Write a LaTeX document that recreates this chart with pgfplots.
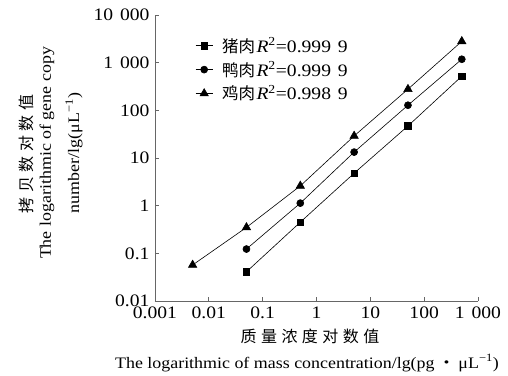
\documentclass[border=0pt]{standalone}
\usepackage{fontspec}
\setmainfont{Liberation Serif}
\newfontfamily\cjk{Noto Sans CJK SC}
\newfontfamily\cjkls{Noto Sans CJK SC}[LetterSpace=28]
\usepackage{graphicx}
\usepackage{pgfplots}
\pgfplotsset{compat=1.18}
\newcommand{\chartfont}{\fontsize{16}{19}\selectfont}
\newcommand{\numfont}{\fontsize{17.5}{20}\selectfont}
\newcommand{\stretchx}[1]{\scalebox{1.12}[1]{#1}}
\newcommand{\gap}{\hspace{0.35em}}
\newcommand{\meat}[1]{{\fontsize{16.5}{20}\selectfont\cjk #1}\hspace{1.5pt}}
\begin{document}
\begin{tikzpicture}
\path[use as bounding box] (-155pt,-74pt) rectangle (353pt,301pt);
\begin{axis}[
  at={(0pt,0pt)}, anchor=south west,
  scale only axis, width=323pt, height=286pt,
  xmode=log, ymode=log,
  xmin=0.001, xmax=1000, ymin=0.01, ymax=10000,
  axis x line=bottom, axis y line=left,
  axis line style={-, line width=0.9pt, black!60},
  tick align=inside, major tick length=4pt,
  xminorticks=false, yminorticks=false,
  every tick/.style={black!60, line width=0.9pt},
  xtick={0.001,0.01,0.1,1,10,100,1000},
  xticklabels={\stretchx{0.001},\stretchx{0.01},\stretchx{0.1},\stretchx{1},\stretchx{10},\stretchx{100},\stretchx{1\gap000}},
  ytick={0.01,0.1,1,10,100,1000,10000},
  yticklabels={\stretchx{0.01},\stretchx{0.1},\stretchx{1},\stretchx{10},\stretchx{100},\stretchx{1\gap000},\stretchx{10\gap000}},
  xticklabel style={font=\numfont, yshift=-2.5pt},
  yticklabel style={font=\numfont, xshift=-2pt},
  legend style={at={(0.115,0.935)}, anchor=north west, draw=none, fill=none,
    font=\numfont, row sep=4pt,
    /tikz/every odd column/.append style={column sep=7pt}},
  legend cell align=left,
  clip=false,
]
\addplot[black, line width=0.6pt, mark=square*, mark size=3.3pt] coordinates {
  (0.05,0.041) (0.5,0.45) (5,4.8) (50,47) (500,520)};
\addlegendentry{\meat{猪肉}\stretchx{\textit{R}\textsuperscript{2}=0.999\gap9}}
\addplot[black, line width=0.6pt, mark=*, mark size=3.5pt] coordinates {
  (0.05,0.123) (0.5,1.13) (5,13.3) (50,128) (500,1180)};
\addlegendentry{\meat{鸭肉}\stretchx{\textit{R}\textsuperscript{2}=0.999\gap9}}
\addplot[black, line width=0.6pt, mark=triangle*, mark size=4.8pt] coordinates {
  (0.005,0.057) (0.05,0.35) (0.5,2.6) (5,29) (50,278) (500,2800)};
\addlegendentry{\meat{鸡肉}\stretchx{\textit{R}\textsuperscript{2}=0.998\gap9}}
\end{axis}
\node[font=\chartfont\cjkls] at (155pt,-35pt) {质量浓度对数值};
\node[font=\chartfont] at (152pt,-62pt) {\stretchx{The logarithmic of mass concentration/lg(pg\,{\cjk ・}\,μL\textsuperscript{−1})}};
\node[font=\chartfont\cjkls, rotate=90] at (-129pt,147pt) {拷贝数对数值};
\node[font=\chartfont, rotate=90] at (-108pt,148pt) {\stretchx{The logarithmic of gene copy}};
\node[font=\chartfont, rotate=90] at (-81pt,148pt) {\stretchx{number/lg(μL\textsuperscript{−1})}};
\end{tikzpicture}
\end{document}
